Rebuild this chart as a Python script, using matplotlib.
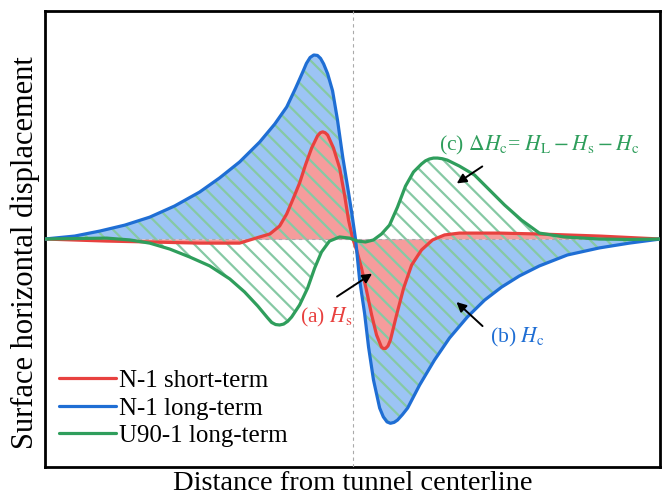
import numpy as np
import matplotlib
matplotlib.use('Agg')
import matplotlib.pyplot as plt

plt.rcParams['font.family'] = ['Liberation Serif', 'DejaVu Serif']
plt.rcParams['mathtext.fontset'] = 'stix'
plt.rcParams['hatch.linewidth'] = 1.6

# N-1 long-term (blue)
x_long = [-100, -90.3, -82.1, -74.0, -65.9, -57.8, -49.7, -43.2, -36.7, -30.2,
          -25.3, -21.4, -18.5, -16.2, -15.0, -13.8, -12.6, -11.4, -10.4, -9.4,
          -8.1, -6.5, -4.9, -3.2, -1.6, -0.3, 1.0, 2.3, 3.9, 5.2,
          6.8, 8.8, 10.0, 11.2, 12.3, 13.5, 14.6, 16.2, 17.9, 21.8,
          26.6, 31.5, 37.3, 42.9, 48.4, 54.2, 60.7, 69.8, 80.2, 89.9,
          100]
y_long = [0, 1.3, 3.5, 6.1, 9.6, 14.5, 20.6, 26.8, 33.8, 42.5,
          50.4, 57.9, 66.2, 73.2, 77.0, 79.6, 80.7, 80.5, 79.2, 76.8,
          72.5, 65.0, 52.2, 36.0, 22.8, 11.8, -0.4, -18.0, -32.5, -47.4,
          -61.8, -74.1, -78.0, -80.2, -80.8, -80.4, -79.4, -77.0, -74.1, -64.0,
          -53.1, -43.4, -34.2, -26.8, -21.1, -16.2, -11.8, -7.0, -3.9, -1.8,
          0]

# N-1 short-term (red)
x_short = [-100, -79.9, -65.9, -49.7, -36.7, -30.2, -26.9, -23.7, -21.4, -19.2,
           -17.2, -15.3, -13.3, -11.4, -10.5, -9.7, -8.9, -8.1, -6.2, -4.2,
           -2.6, -1.3, 0, 1.3, 2.9, 4.5, 6.2, 7.8, 9.4, 10.0,
           10.7, 11.5, 12.3, 14.3, 16.6, 19.2, 22.4, 26.0, 29.9, 34.7,
           47.7, 60.7, 80.2, 100]
y_short = [0, -0.9, -1.3, -1.8, -1.8, 0.9, 2.2, 5.7, 11.0, 18.0,
           24.6, 32.5, 39.9, 45.2, 46.6, 47.0, 46.6, 45.6, 39.9, 31.1,
           19.3, 8.3, 0.4, -4.8, -12.7, -22.4, -33.3, -42.1, -47.4, -48.0,
           -48.0, -46.9, -44.3, -33.3, -21.5, -11.4, -4.8, -0.4, 1.8, 2.6,
           2.6, 2.2, 1.3, 0]

# U90-1 long-term (green)
x_u90 = [-100, -79.9, -72.4, -65.9, -59.4, -52.9, -46.4, -39.9, -35.1, -30.8,
         -27.6, -26.3, -25.0, -23.7, -22.4, -21.1, -19.8, -17.2, -14.6, -12.3,
         -10.1, -7.5, -4.2, -1.0, 1.6, 4.2, 6.8, 9.4, 12.0, 14.6,
         17.2, 19.8, 22.4, 23.7, 25.0, 26.3, 27.6, 29.2, 30.8, 34.7,
         39.6, 44.5, 49.4, 54.9, 60.7, 68.8, 80.2, 89.9, 100]
y_u90 = [0, 0.4, -0.4, -1.8, -4.4, -7.9, -11.8, -17.5, -23.2, -29.4,
         -34.6, -36.6, -37.5, -37.7, -37.3, -36.1, -34.2, -28.9, -21.5, -12.7,
         -5.7, -0.9, 0.9, 0.4, -0.9, -1.3, -0.4, 2.2, 6.1, 14.0,
         23.2, 29.4, 32.9, 34.3, 35.1, 35.5, 35.5, 35.2, 34.6, 32.0,
         28.1, 21.5, 14.9, 8.3, 2.6, 0.9, 0, -0.2, 0]

red = '#e8413f'
blue = '#1f6ed4'
green = '#2f9e5c'

fig = plt.figure(figsize=(6.69, 4.99), dpi=100)
ax = fig.add_axes([0.067, 0.064, 0.92, 0.914])

# filled areas
ax.fill_between(x_long, y_long, 0, color='#9cc4f4', lw=0, zorder=1)
ax.fill_between(x_short, y_short, 0, color='#f59c9c', lw=0, zorder=2)
# hatched difference area between long-term and U90-1 curves
ax.fill(np.concatenate([x_long, x_u90[::-1]]),
        np.concatenate([y_long, y_u90[::-1]]),
        facecolor='none', edgecolor='#86c9a4', hatch='\\\\', lw=0, zorder=3)

ax.axhline(0, color='#aaaaaa', ls=(0, (3, 3)), lw=0.8, zorder=3.5)
ax.axvline(0, color='#aaaaaa', ls=(0, (3, 3)), lw=0.8, zorder=3.5)

line_kw = dict(lw=2.3, solid_joinstyle='round', solid_capstyle='round')
ax.plot(x_short, y_short, color=red, label='N-1 short-term', zorder=5, **line_kw)
ax.plot(x_long, y_long, color=blue, label='N-1 long-term', zorder=5, **line_kw)
ax.plot(x_u90, y_u90, color=green, label='U90-1 long-term', zorder=6, **line_kw)

arrow = dict(arrowstyle='-|>', color='black', lw=1.4, mutation_scale=14)
ax.annotate('', xy=(7.1, -14.5), xytext=(-5.8, -25.9), arrowprops=arrow, zorder=7)
ax.annotate('', xy=(33.1, -26.8), xytext=(42.9, -39.0), arrowprops=arrow, zorder=7)
ax.annotate('', xy=(33.1, 23.7), xytext=(42.9, 32.5), arrowprops=arrow, zorder=7)

ax.text(-17.2, -34.6, r'(a) $H_\mathrm{s}$', color=red, fontsize=15.6,
        ha='left', va='center', zorder=7)
ax.text(44.5, -43.0, r'(b) $H_\mathrm{c}$', color=blue, fontsize=15.6,
        ha='left', va='center', zorder=7)
ax.text(28.2, 41.2,
        r'(c) $\Delta H_\mathrm{c}$= $H_\mathrm{L} - H_\mathrm{s} - H_\mathrm{c}$',
        color=green, fontsize=15.6, ha='left', va='center', zorder=7)

ax.set_xlim(-100, 100)
ax.set_ylim(-100, 100)
ax.set_xticks([])
ax.set_yticks([])
for s in ax.spines.values():
    s.set_linewidth(2)

ax.set_xlabel('Distance from tunnel centerline', fontsize=20.5, labelpad=3)
ax.set_ylabel('Surface horizontal displacement', fontsize=22)
ax.yaxis.set_label_coords(-0.008, 0.47)

ax.legend(loc='lower left', bbox_to_anchor=(-0.01, 0.0), frameon=False,
          fontsize=18, handlelength=2.3, handletextpad=0.1, labelspacing=0.2,
          borderaxespad=0.4)

fig.savefig('out.png', dpi=100)
